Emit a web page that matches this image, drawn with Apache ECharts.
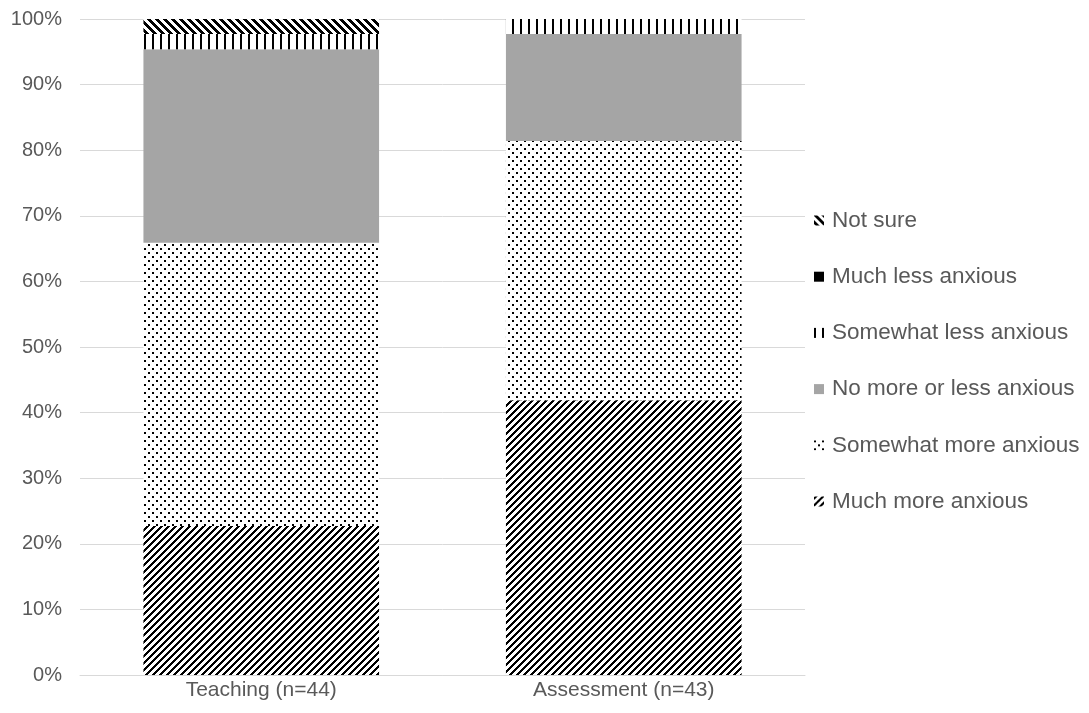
<!DOCTYPE html>
<html>
<head>
<meta charset="utf-8">
<script src="https://cdn.jsdelivr.net/npm/echarts@6/dist/echarts.min.js"></script>
<style>html,body{margin:0;padding:0;background:#fff;}#c{width:1089px;height:713px;}</style>
</head>
<body>
<div id="c"></div>
<script>
var categories = ['Teaching (n=44)', 'Assessment (n=43)'];
var seriesNames = ['Much more anxious', 'Somewhat more anxious', 'No more or less anxious', 'Somewhat less anxious', 'Much less anxious', 'Not sure'];
var muchMore = [22.7, 41.9];
var somewhatMore = [43.2, 39.5];
var noMoreLess = [29.5, 16.3];
var somewhatLess = [2.3, 2.3];
var muchLess = [0, 0];
var notSure = [2.3, 0];
var yTicks = [0, 10, 20, 30, 40, 50, 60, 70, 80, 90, 100];

function makeTile(w, h, fn) {
  var c = document.createElement('canvas');
  c.width = w; c.height = h;
  var ctx = c.getContext('2d');
  ctx.fillStyle = '#ffffff';
  ctx.fillRect(0, 0, w, h);
  ctx.fillStyle = '#000000';
  for (var x = 0; x < w; x++) for (var y = 0; y < h; y++) if (fn(x, y)) ctx.fillRect(x, y, 1, 1);
  return { image: c, repeat: 'repeat' };
}
var patUp = makeTile(7, 7, function (x, y) { return ((x + y) % 7) < 3; });
var patDown = makeTile(8, 8, function (x, y) { return (((x - y) % 8) + 8) % 8 < 4; });
var patVert = makeTile(8, 8, function (x, y) { return (x % 8) < 2; });
var patDots = makeTile(8, 8, function (x, y) { return (x < 2 && y < 2) || (x >= 4 && x < 6 && y >= 4 && y < 6); });

var fills = [patUp, patDots, '#a5a5a5', patVert, '#000000', patDown];
var values = [muchMore, somewhatMore, noMoreLess, somewhatLess, muchLess, notSure];

var series = seriesNames.map(function (n, i) {
  return {
    name: n, type: 'bar', stack: 'total', barWidth: '65%',
    data: values[i],
    itemStyle: { color: fills[i] },
    emphasis: { disabled: true }
  };
});

var chart = echarts.init(document.getElementById('c'), null, { renderer: 'canvas' });
chart.setOption({
  animation: false,
  backgroundColor: '#ffffff',
  grid: { left: 80, right: 284, top: 19, bottom: 38, containLabel: false },
  legend: {
    orient: 'vertical', left: 814, top: 209, itemGap: 33.2, padding: 0,
    itemWidth: 10, itemHeight: 10, icon: 'rect',
    data: seriesNames.slice().reverse(),
    textStyle: { fontFamily: 'Liberation Sans, Arial, sans-serif', fontSize: 22.5, lineHeight: 22, color: '#595959', padding: [0, 0, 0, 3] },
    selectedMode: false
  },
  xAxis: {
    type: 'category', data: categories,
    axisLine: { lineStyle: { color: '#d9d9d9', width: 1 } },
    axisTick: { show: false },
    axisLabel: { fontFamily: 'Liberation Sans, Arial, sans-serif', fontSize: 21, color: '#595959', margin: 5 }
  },
  yAxis: {
    type: 'value', min: yTicks[0], max: yTicks[yTicks.length - 1], interval: 10,
    axisLine: { show: false }, axisTick: { show: false },
    splitLine: { lineStyle: { color: '#d9d9d9', width: 1 } },
    axisLabel: { fontFamily: 'Liberation Sans, Arial, sans-serif', fontSize: 20, color: '#595959', margin: 18, formatter: '{value}%' }
  },
  series: series
});
</script>
</body>
</html>
